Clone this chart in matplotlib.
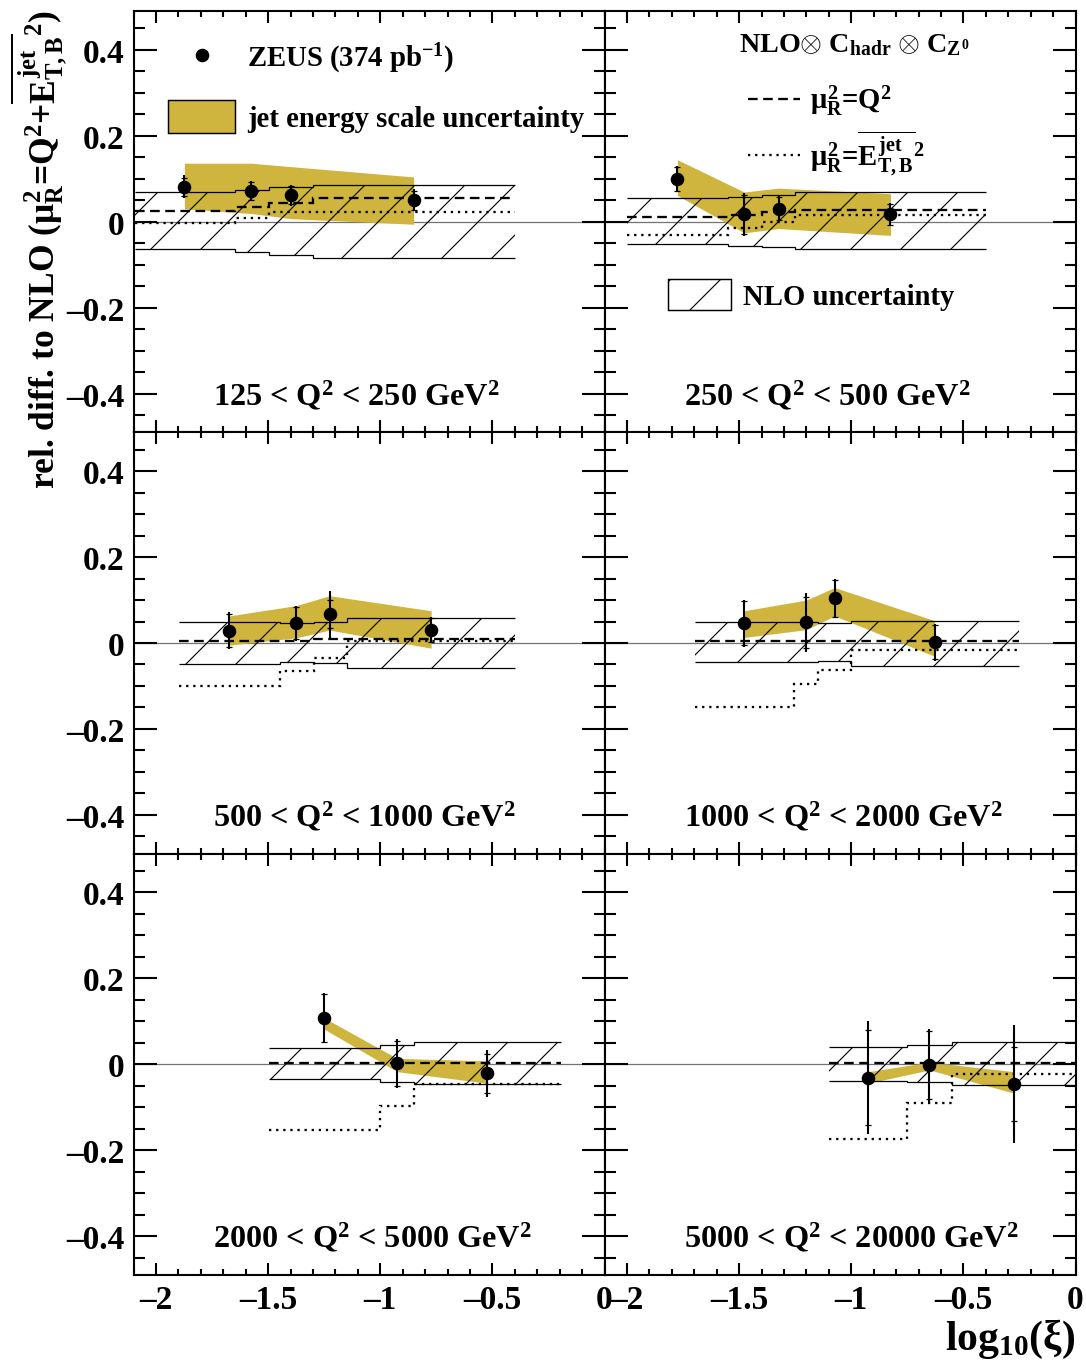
import numpy as np
import matplotlib
matplotlib.use('Agg')
import matplotlib.pyplot as plt
from matplotlib.lines import Line2D
from matplotlib.patches import Patch
from matplotlib.legend import Legend
from matplotlib.ticker import MultipleLocator, FuncFormatter

plt.rcParams['font.family'] = ['Liberation Serif', 'DejaVu Serif']
plt.rcParams['font.weight'] = 'bold'
plt.rcParams['mathtext.fontset'] = 'custom'
plt.rcParams['mathtext.rm'] = 'Liberation Serif:bold'
plt.rcParams['mathtext.it'] = 'Liberation Serif:bold'
plt.rcParams['mathtext.bf'] = 'Liberation Serif:bold'
plt.rcParams['hatch.linewidth'] = 0.55
plt.rcParams['hatch.color'] = 'black'

DPI = 150

# ---------------- data ----------------
panel_labels = [
    '125 < Q$^{2}$ < 250 GeV$^{2}$',
    '250 < Q$^{2}$ < 500 GeV$^{2}$',
    '500 < Q$^{2}$ < 1000 GeV$^{2}$',
    '1000 < Q$^{2}$ < 2000 GeV$^{2}$',
    '2000 < Q$^{2}$ < 5000 GeV$^{2}$',
    '5000 < Q$^{2}$ < 20000 GeV$^{2}$',
]

bin_edges = [
    [-2.093, -1.647, -1.498, -1.300, -0.397],
    [-2.001, -1.550, -1.398, -1.250, -0.401],
    [-1.896, -1.449, -1.297, -1.148, -0.397],
    [-1.696, -1.257, -1.146, -1.001, -0.253],
    [-1.498, -1.000, -0.848, -0.196],
    [-1.101, -0.751, -0.550, 0.0],
]

xi_points = [
    [-1.873, -1.575, -1.398, -0.851],
    [-1.775, -1.477, -1.324, -0.825],
    [-1.674, -1.375, -1.226, -0.773],
    [-1.477, -1.200, -1.074, -0.628],
    [-1.250, -0.925, -0.523],
    [-0.925, -0.651, -0.275],
]

data_rel = [
    [0.081, 0.071, 0.061, 0.050],
    [0.100, 0.017, 0.030, 0.017],
    [0.029, 0.046, 0.067, 0.030],
    [0.046, 0.048, 0.104, 0.002],
    [0.107, 0.002, -0.021],
    [-0.031, -0.002, -0.046],
]

err_tot = [
    [0.027, 0.024, 0.024, 0.025],
    [0.030, 0.050, 0.029, 0.026],
    [0.043, 0.041, 0.055, 0.030],
    [0.055, 0.068, 0.045, 0.043],
    [0.058, 0.057, 0.055],
    [0.132, 0.085, 0.138],
]

err_stat = [
    [0.021, 0.021, 0.021, 0.022],
    [0.028, 0.046, 0.027, 0.024],
    [0.038, 0.037, 0.033, 0.028],
    [0.051, 0.060, 0.043, 0.040],
    [0.056, 0.053, 0.046],
    [0.110, 0.079, 0.086],
]

jes_up = [
    [0.136, 0.136, 0.128, 0.104],
    [0.144, 0.069, 0.078, 0.065],
    [0.063, 0.087, 0.110, 0.075],
    [0.075, 0.100, 0.129, 0.052],
    [0.108, 0.014, 0.008],
    [-0.017, 0.005, -0.017],
]

jes_down = [
    [0.030, 0.019, 0.007, -0.006],
    [0.061, -0.026, -0.016, -0.032],
    [-0.005, 0.012, 0.030, -0.012],
    [0.013, 0.031, 0.063, -0.031],
    [0.082, -0.017, -0.044],
    [-0.044, -0.013, -0.067],
]

nlo_up = [
    [0.069, 0.073, 0.081, 0.086],
    [0.055, 0.057, 0.061, 0.069],
    [0.050, 0.046, 0.049, 0.058],
    [0.048, 0.048, 0.046, 0.052],
    [0.039, 0.045, 0.053],
    [0.041, 0.045, 0.053],
]

nlo_down = [
    [-0.063, -0.070, -0.078, -0.084],
    [-0.053, -0.056, -0.060, -0.064],
    [-0.049, -0.045, -0.047, -0.057],
    [-0.045, -0.045, -0.043, -0.053],
    [-0.034, -0.040, -0.046],
    [-0.038, -0.040, -0.048],
]

nlo_muQ2 = [
    [0.025, 0.033, 0.044, 0.055],
    [0.011, 0.015, 0.023, 0.028],
    [0.005, 0.005, 0.009, 0.009],
    [0.005, 0.005, 0.005, 0.005],
    [0.003, 0.003, 0.003],
    [0.003, 0.003, 0.003],
]

nlo_muET = [
    [-0.003, 0.009, 0.023, 0.023],
    [-0.032, -0.015, -0.001, 0.016],
    [-0.099, -0.064, -0.035, 0.004],
    [-0.149, -0.095, -0.063, -0.016],
    [-0.153, -0.096, -0.046],
    [-0.174, -0.091, -0.023],
]

x_range = (-2.1, 0.0)
y_range = (-0.49, 0.49)

# ---------------- styles ----------------
YEL = '#CFB53E'
DASH = (0, (4.2, 2.4))
DOT = (0, (1.0, 2.1))
FS = 15.5
FSL = 13.8

fig, axes = plt.subplots(3, 2, sharex=True, sharey=True,
                         figsize=(1086 / DPI, 1368 / DPI), dpi=DPI)
fig.subplots_adjust(left=133.5 / 1086, right=1075.5 / 1086,
                    top=1 - 12 / 1368, bottom=1 - 1276 / 1368,
                    wspace=0, hspace=0)

fmt = FuncFormatter(lambda v, p: ('%g' % round(v, 3)).replace('-', '\u2013'))

for i, ax in enumerate(axes.flat):
    edges = bin_edges[i]
    ax.axhline(0, color='0.45', lw=0.6, zorder=1)
    ax.fill_between(xi_points[i], jes_down[i], jes_up[i], color=YEL, lw=0, zorder=2)
    ax.stairs(nlo_up[i], edges, baseline=nlo_down[i], fill=True,
              facecolor='none', edgecolor='black', hatch='/', lw=0, zorder=3)
    ax.stairs(nlo_up[i], edges, baseline=None, color='black', lw=0.6, zorder=3)
    ax.stairs(nlo_down[i], edges, baseline=None, color='black', lw=0.6, zorder=3)
    ax.stairs(nlo_muQ2[i], edges, baseline=None, color='black', lw=1.1, ls=DASH, zorder=4)
    ax.stairs(nlo_muET[i], edges, baseline=None, color='black', lw=1.1, ls=DOT, zorder=4)
    ax.errorbar(xi_points[i], data_rel[i], yerr=err_tot[i], fmt='none', ecolor='black',
                elinewidth=1.0, capsize=0, zorder=5)
    ax.errorbar(xi_points[i], data_rel[i], yerr=err_stat[i], fmt='o', color='black',
                ms=5.5, elinewidth=0, capsize=1.3, capthick=0.6, zorder=6)

    ax.text(0.168, 0.068, panel_labels[i], transform=ax.transAxes,
            ha='left', va='baseline', fontsize=FS)

    ax.set_xlim(*x_range)
    ax.set_ylim(*y_range)
    ax.xaxis.set_major_locator(MultipleLocator(0.5))
    ax.xaxis.set_minor_locator(MultipleLocator(0.1))
    ax.yaxis.set_major_locator(MultipleLocator(0.2))
    ax.yaxis.set_minor_locator(MultipleLocator(0.05))
    ax.xaxis.set_major_formatter(fmt)
    ax.yaxis.set_major_formatter(fmt)
    ax.tick_params(which='both', direction='in', top=True, right=True, width=1.0,
                   labelsize=16, pad=4.5)
    ax.tick_params(axis='x', which='major', length=5.8)
    ax.tick_params(axis='x', which='minor', length=2.9)
    ax.tick_params(axis='y', which='major', length=11)
    ax.tick_params(axis='y', which='minor', length=5.3)
    for s in ax.spines.values():
        s.set_linewidth(1.0)


def entry(ax, handle, label, x0, yc, hl_px, hh_px, pad_px, fs=FSL):
    fs_px = fs * DPI / 72
    leg = Legend(ax, [handle], [label], loc='center left', bbox_to_anchor=(x0, yc),
                 bbox_transform=ax.transAxes, frameon=False, fontsize=fs,
                 borderpad=0, borderaxespad=0, handlelength=hl_px / fs_px,
                 handleheight=hh_px / fs_px, handletextpad=pad_px / fs_px)
    ax.add_artist(leg)


ax0 = axes[0, 0]
ax1 = axes[0, 1]
W = 471.0
H = 421.5
entry(ax0, Line2D([], [], marker='o', ls='none', color='black', ms=5.5),
      r'ZEUS (374 pb$^{-1}$)', (168 - 133.5) / W, (433 - 58) / H, 67, 20, 12)
entry(ax0, Patch(facecolor=YEL, edgecolor='black', lw=0.7),
      'jet energy scale uncertainty', (168 - 133.5) / W, (433 - 117) / H, 67, 40, 12)

ax1.text((854 - 604.5) / W, (433 - 45) / H, r'NLO$\otimes$ C$_{hadr}$ $\otimes$ C$_{Z^{0}}$',
         transform=ax1.transAxes, ha='center', va='center', fontsize=13.5)
entry(ax1, Line2D([], [], color='black', lw=1.1, ls=DASH),
      r'$\mu^{2}_{R}$=Q$^{2}$', (748 - 604.5) / W, (433 - 101) / H, 52, 20, 10)
entry(ax1, Line2D([], [], color='black', lw=1.1, ls=DOT),
      r'$\mu^{2}_{R}$=$\overline{E^{jet}_{T,B}}^{2}$', (748 - 604.5) / W, (433 - 153) / H, 52, 20, 10)
entry(ax1, Patch(facecolor='white', edgecolor='black', hatch='/', lw=0.7),
      'NLO uncertainty', (668 - 604.5) / W, (433 - 295) / H, 63, 38, 12)

fig.text(39 / 1086, 1 - 10 / 1368,
         r'rel. diff. to NLO ($\mu^{2}_{R}$=Q$^{2}$+$\overline{E^{jet}_{T,B}}^{2}$)',
         rotation=90, ha='center', va='top', fontsize=17)
fig.text(1075 / 1086, 1 - 1318 / 1368, r'log$_{10}$($\xi$)',
         ha='right', va='top', fontsize=20)

fig.savefig('out.png', dpi=DPI)
